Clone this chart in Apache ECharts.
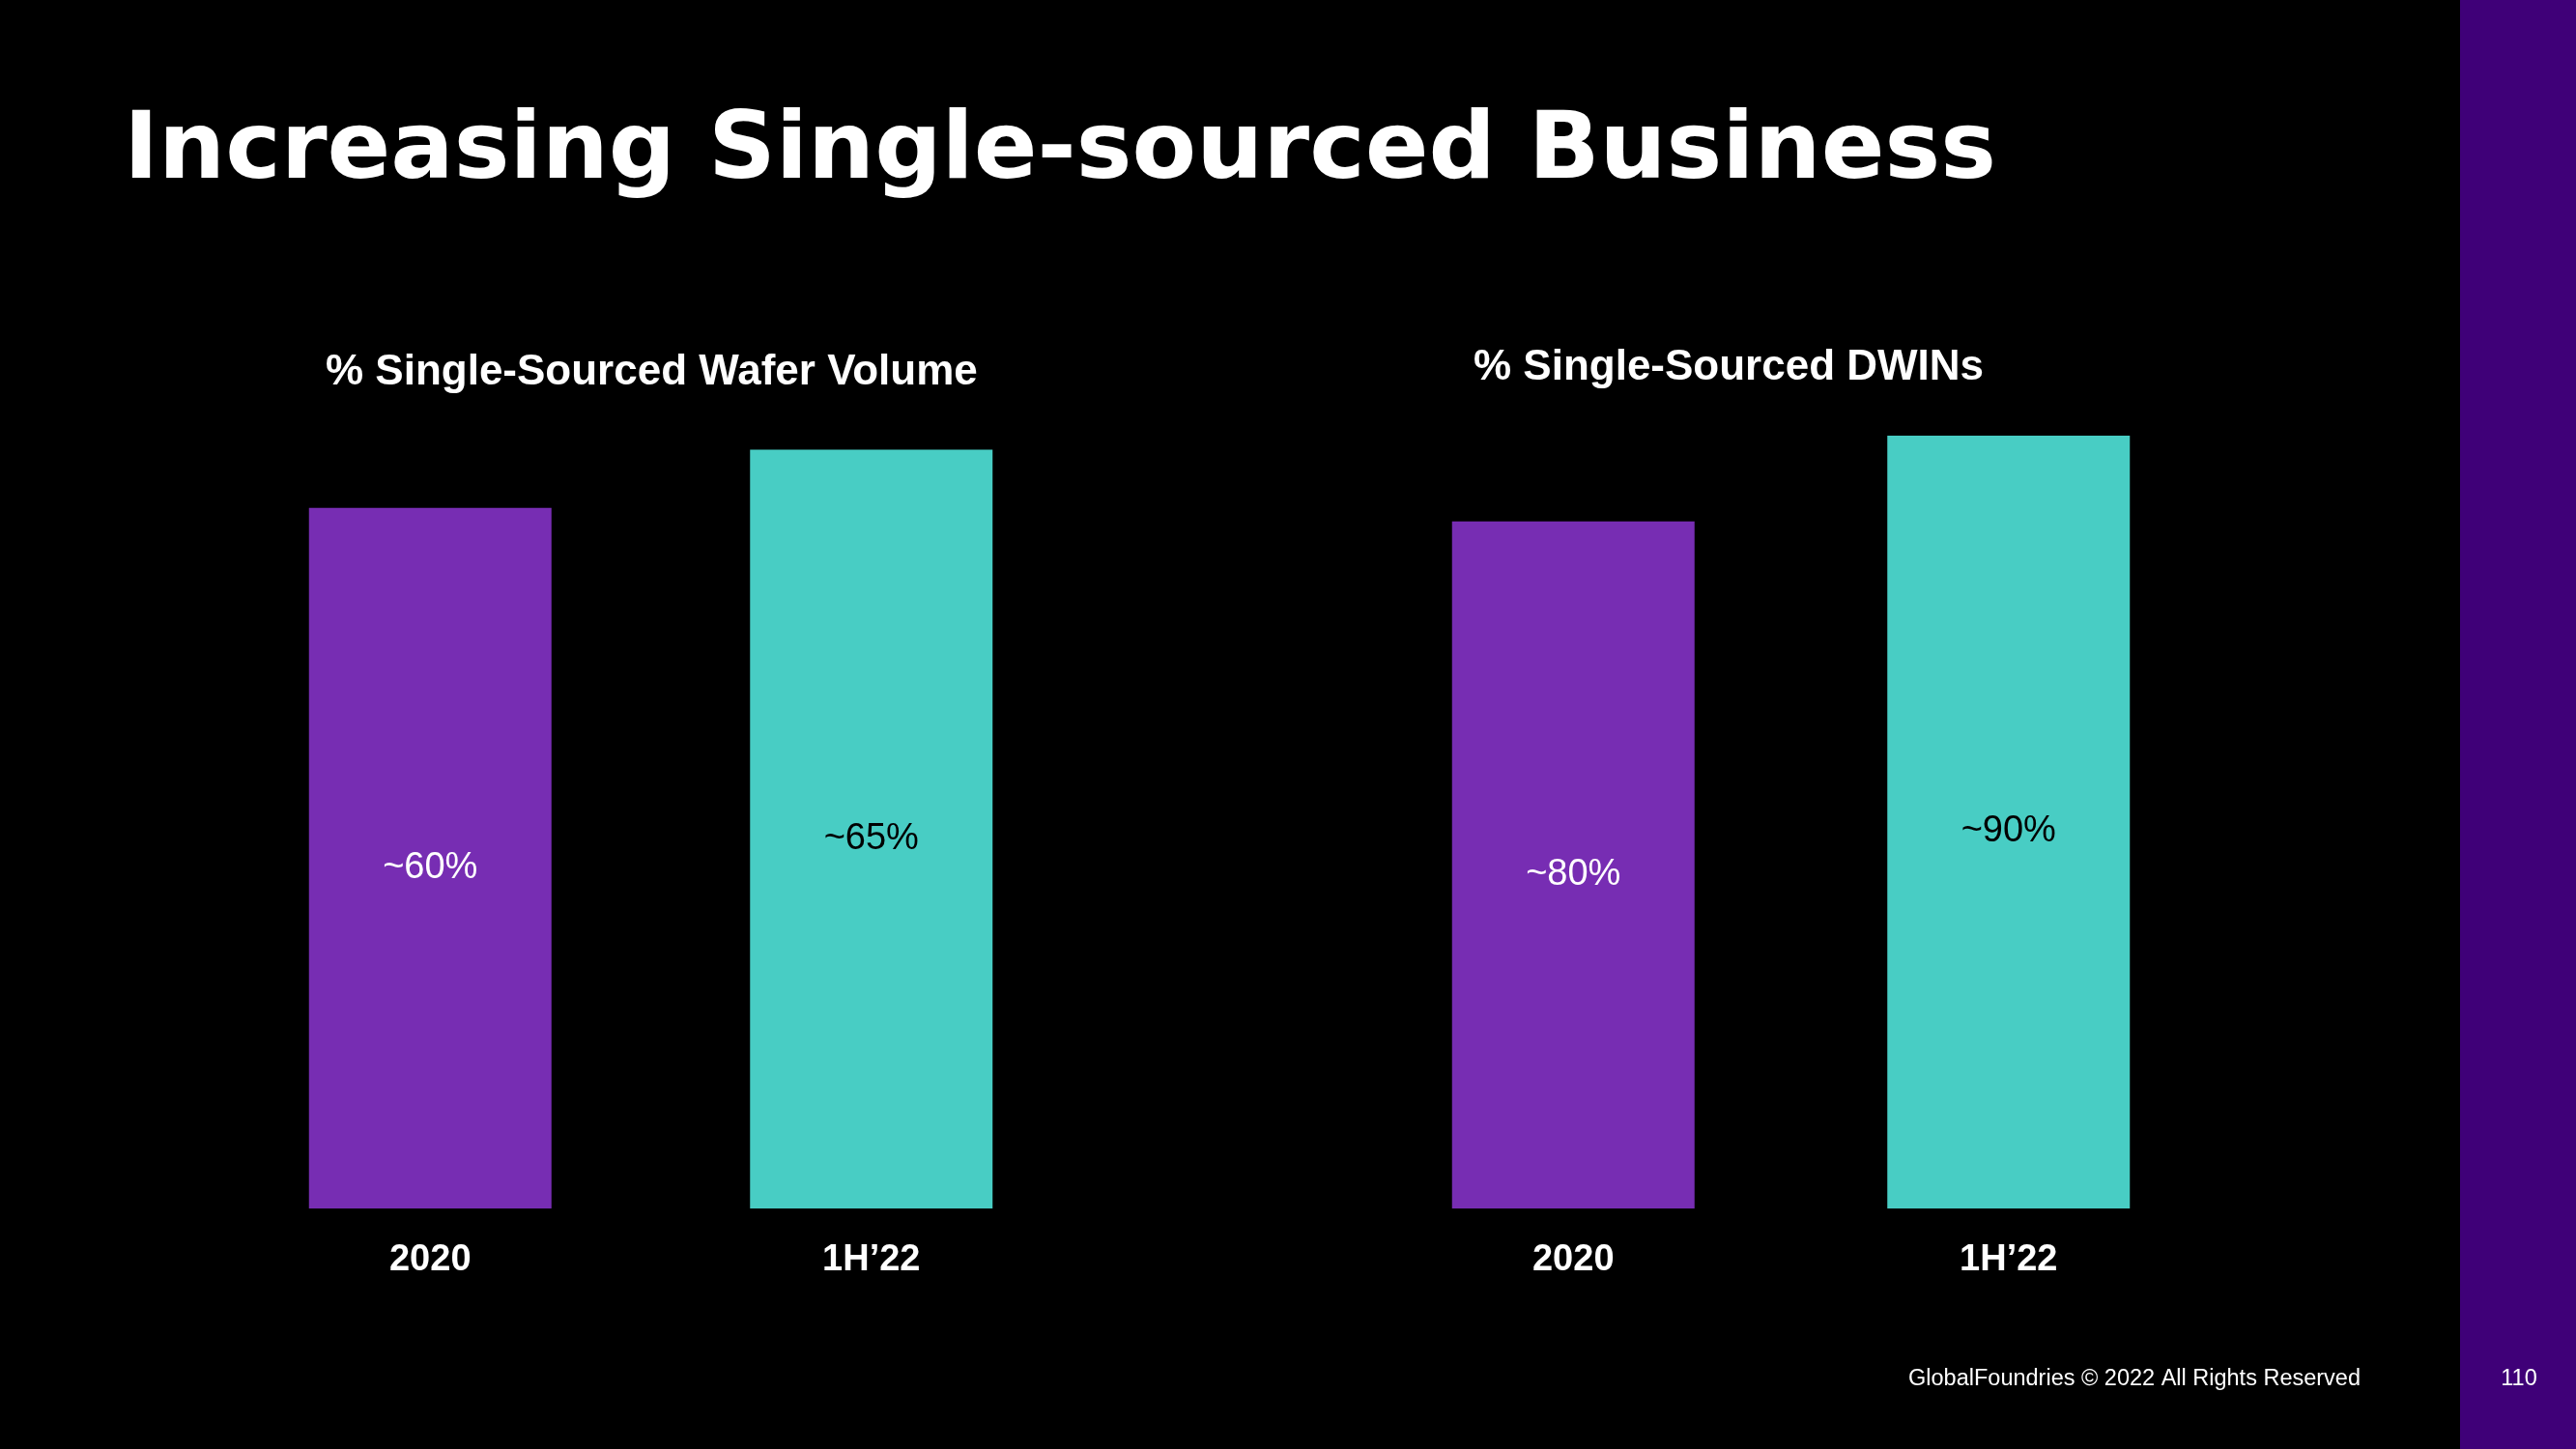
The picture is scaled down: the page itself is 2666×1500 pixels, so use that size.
<!DOCTYPE html>
<html>
<head>
<meta charset="utf-8">
<script src="https://cdn.jsdelivr.net/npm/echarts@6/dist/echarts.min.js"></script>
<style>
html,body{margin:0;padding:0;background:#000;}
#chart{width:2666px;height:1500px;}
</style>
</head>
<body>
<div id="chart"></div>
<script>
const categories = ['2020', '1H\u201922'];
const waferVolume = [60, 65];
const dwins = [80, 90];
const pageTitle = 'Increasing Single-sourced Business';
const leftTitle = '% Single-Sourced Wafer Volume';
const rightTitle = '% Single-Sourced DWINs';
const footer = 'GlobalFoundries \u00A9 2022 All Rights Reserved';
const pageNumber = '110';

const PURPLE = '#772db3';
const TEAL = '#48cdc4';

const chart = echarts.init(document.getElementById('chart'));

function barSeries(data, axisIdx) {
  return {
    type: 'bar',
    xAxisIndex: axisIdx,
    yAxisIndex: axisIdx,
    data: data.map((v, i) => ({
      value: v,
      itemStyle: { color: i === 0 ? PURPLE : TEAL },
      label: { color: i === 0 ? '#fff' : '#000' }
    })),
    barWidth: 251,
    label: {
      show: true,
      position: 'inside',
      offset: [0, 10],
      fontFamily: 'Liberation Sans',
      fontSize: 38,
      formatter: function (p) { return '~' + p.value + '%'; }
    },
    silent: true,
    animation: false
  };
}

function catAxis(idx) {
  return {
    type: 'category',
    gridIndex: idx,
    data: categories,
    axisLine: { show: false },
    axisTick: { show: false },
    axisLabel: {
      color: '#fff',
      fontFamily: 'Liberation Sans',
      fontWeight: 'bold',
      fontSize: 38,
      margin: 35
    }
  };
}

chart.setOption({
  backgroundColor: '#000',
  animation: false,
  grid: [
    { left: 217, width: 913, top: 405, bottom: 249 },
    { left: 1403, width: 901, top: 362, bottom: 249 }
  ],
  xAxis: [catAxis(0), catAxis(1)],
  yAxis: [
    { type: 'value', gridIndex: 0, min: 0, max: 70, show: false, splitLine: { show: false } },
    { type: 'value', gridIndex: 1, min: 0, max: 100, show: false, splitLine: { show: false } }
  ],
  series: [barSeries(waferVolume, 0), barSeries(dwins, 1)],
  graphic: [
    { type: 'rect', shape: { x: 2546, y: 0, width: 120, height: 1500 }, style: { fill: '#3f0078' }, silent: true },
    { type: 'text', x: 128, y: 159, style: { text: pageTitle, fill: '#fff', font: 'bold 97px "DejaVu Sans"', textAlign: 'left', textVerticalAlign: 'middle' } },
    { type: 'text', x: 337, y: 386, style: { text: leftTitle, fill: '#fff', font: 'bold 44px "Liberation Sans"', textAlign: 'left', textVerticalAlign: 'middle' } },
    { type: 'text', x: 1525, y: 381, style: { text: rightTitle, fill: '#fff', font: 'bold 44px "Liberation Sans"', textAlign: 'left', textVerticalAlign: 'middle' } },
    { type: 'text', x: 2443, y: 1428, style: { text: footer, fill: '#fff', font: '23.5px "Liberation Sans"', textAlign: 'right', textVerticalAlign: 'middle' } },
    { type: 'text', x: 2607, y: 1428, style: { text: pageNumber, fill: '#fff', font: '23.5px "Liberation Sans"', textAlign: 'center', textVerticalAlign: 'middle' } }
  ]
});
</script>
</body>
</html>
